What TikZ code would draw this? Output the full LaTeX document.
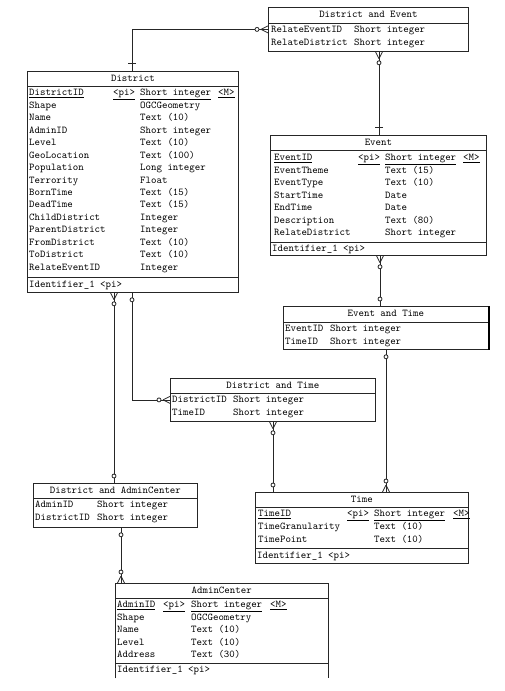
\documentclass[tikz,border=0pt]{standalone}
\usetikzlibrary{decorations.markings}
\tikzset{
	tbl/.style={draw=black!85, line width=0.8pt, anchor=north west, inner sep=0pt},
	txt/.style={anchor=west, inner sep=0pt, text height=7pt, text depth=2pt,
			font=\ttfamily\fontsize{10.4}{12}\selectfont},
	hd/.style={txt, anchor=center},
	rel/.style={draw=black!85, line width=0.8pt},
	onemark/.style={postaction={decorate, decoration={markings,
					mark=at position #1 with {\draw[rel] (0,-4pt) -- (0,4pt);}}}},
	zeromark/.style={postaction={decorate, decoration={markings,
					mark=at position #1 with {\draw[rel, fill=white] (0,0) circle (2pt);}}}},
	manyend/.style={postaction={decorate, decoration={markings,
					mark=at position -11pt with {\draw[rel, fill=white] (0,0) circle (2pt);},
					mark=at position -0.01pt with {\draw[rel] (-7pt,0) -- (0,3.5pt) (-7pt,0) -- (0,-3.5pt);}}}}
}

\begin{document}
\begin{tikzpicture}[x=1pt, y=-1pt]
	\useasboundingbox (0,0) rectangle (504,691);

	% District
	\node[tbl, minimum width=211pt, minimum height=221pt] (district) at (27,71) {};
	\draw[rel] (district.north west) ++(0,15) -- ++(211,0);
	\draw[rel] (district.south west) ++(0,-15) -- ++(211,0);
	\node[hd] (districth) at ([yshift=-7.5pt]district.north) {District};
	\node[txt] (dn1) at (29,93.3) {\underline{DistrictID}};
	\node[txt] (dp1) at (113,93.3) {\underline{<pi>}};
	\node[txt] (dy1) at (140,93.3) {\underline{Short integer}};
	\node[txt] (dm1) at (218,93.3) {\underline{<M>}};
	\foreach \n/\t [count=\i from 2] in {Shape/OGCGeometry, Name/Text (10), AdminID/Short integer,
			Level/Text (10), GeoLocation/Text (100), Population/Long integer, Terrority/Float,
			BornTime/Text (15), DeadTime/Text (15), ChildDistrict/Integer, ParentDistrict/Integer,
			FromDistrict/Text (10), ToDistrict/Text (10), RelateEventID/Integer}{
		\node[txt] (dn\i) at (29,{93.3+12.46*(\i-1)}) {\n};
		\node[txt] (dy\i) at (140,{93.3+12.46*(\i-1)}) {\t};
	}
	\node[txt] (did) at ([xshift=2pt,yshift=7.5pt]district.south west) {Identifier\_1 <pi>};

	% District and Event
	\node[tbl, minimum width=200pt, minimum height=44pt] (distev) at (268,7) {};
	\draw[rel] (distev.north west) ++(0,16) -- ++(200,0);
	\node[hd] (distevh) at ([yshift=-8pt]distev.north) {District and Event};
	\foreach \n/\t [count=\i] in {RelateEventID/Short integer, RelateDistrict/Short integer}{
		\node[txt] (den\i) at (271,{30+12.7*(\i-1)}) {\n};
		\node[txt] (dey\i) at (354,{30+12.7*(\i-1)}) {\t};
	}

	% Event
	\node[tbl, minimum width=216pt, minimum height=120pt] (event) at (270,135) {};
	\draw[rel] (event.north west) ++(0,15) -- ++(216,0);
	\draw[rel] (event.south west) ++(0,-13) -- ++(216,0);
	\node[hd] (eventh) at ([yshift=-7.5pt]event.north) {Event};
	\node[txt] (en1) at (274,158) {\underline{EventID}};
	\node[txt] (ep1) at (358,158) {\underline{<pi>}};
	\node[txt] (ey1) at (385,158) {\underline{Short integer}};
	\node[txt] (em1) at (463,158) {\underline{<M>}};
	\foreach \n/\t [count=\i from 2] in {EventTheme/Text (15), EventType/Text (10), StartTime/Date,
			EndTime/Date, Description/Text (80), RelateDistrict/Short integer}{
		\node[txt] (en\i) at (274,{158+12.5*(\i-1)}) {\n};
		\node[txt] (ey\i) at (385,{158+12.5*(\i-1)}) {\t};
	}
	\node[txt] (eid) at ([xshift=2pt,yshift=6.5pt]event.south west) {Identifier\_1 <pi>};

	% Event and Time
	\node[tbl, minimum width=205pt, minimum height=43pt] (evtime) at (283,306) {};
	\draw[rel] (evtime.north west) ++(0,16) -- ++(205,0);
	\draw[black, line width=2pt] (evtime.north east) -- (evtime.south east);
	\node[hd] (evtimeh) at ([yshift=-8pt]evtime.north) {Event and Time};
	\foreach \n/\t [count=\i] in {EventID/Short integer, TimeID/Short integer}{
		\node[txt] (etn\i) at (285,{329+12.5*(\i-1)}) {\n};
		\node[txt] (ety\i) at (330,{329+12.5*(\i-1)}) {\t};
	}

	% District and Time
	\node[tbl, minimum width=205pt, minimum height=43pt] (disttime) at (170,378) {};
	\draw[rel] (disttime.north west) ++(0,15) -- ++(205,0);
	\node[hd] (disttimeh) at ([yshift=-7.5pt]disttime.north) {District and Time};
	\foreach \n/\t [count=\i] in {DistrictID/Short integer, TimeID/Short integer}{
		\node[txt] (dtn\i) at (172,{400+12.8*(\i-1)}) {\n};
		\node[txt] (dty\i) at (233,{400+12.8*(\i-1)}) {\t};
	}

	% District and AdminCenter
	\node[tbl, minimum width=164pt, minimum height=44pt] (distadmin) at (33,483) {};
	\draw[rel] (distadmin.north west) ++(0,15) -- ++(164,0);
	\node[hd] (distadminh) at ([yshift=-7.5pt]distadmin.north) {District and AdminCenter};
	\foreach \n/\t [count=\i] in {AdminID/Short integer, DistrictID/Short integer}{
		\node[txt] (dan\i) at (35,{505+13*(\i-1)}) {\n};
		\node[txt] (day\i) at (97,{505+13*(\i-1)}) {\t};
	}

	% Time
	\node[tbl, minimum width=213pt, minimum height=71pt] (time) at (255,492) {};
	\draw[rel] (time.north west) ++(0,15) -- ++(213,0);
	\draw[rel] (time.south west) ++(0,-15) -- ++(213,0);
	\node[hd] (timeh) at ([yshift=-7.5pt]time.north) {Time};
	\node[txt] (tn1) at (258,514) {\underline{TimeID}};
	\node[txt] (tp1) at (347,514) {\underline{<pi>}};
	\node[txt] (ty1) at (374,514) {\underline{Short integer}};
	\node[txt] (tm1) at (453,514) {\underline{<M>}};
	\foreach \n/\t [count=\i from 2] in {TimeGranularity/Text (10), TimePoint/Text (10)}{
		\node[txt] (tn\i) at (258,{514+13*(\i-1)}) {\n};
		\node[txt] (ty\i) at (374,{514+13*(\i-1)}) {\t};
	}
	\node[txt] (tid) at ([xshift=2pt,yshift=7.5pt]time.south west) {Identifier\_1 <pi>};

	% AdminCenter (cut off at the bottom)
	\node[anchor=north west, inner sep=0pt, minimum width=213pt, minimum height=95pt] (admin) at (115,583) {};
	\draw[rel] (admin.south west) |- (admin.north east) -- (admin.south east);
	\draw[rel] (admin.north west) ++(0,15) -- ++(213,0);
	\draw[rel] (admin.south west) ++(0,-15) -- ++(213,0);
	\node[hd] (adminh) at ([yshift=-7.5pt]admin.north) {AdminCenter};
	\node[txt] (an1) at (117,605) {\underline{AdminID}};
	\node[txt] (ap1) at (163,605) {\underline{<pi>}};
	\node[txt] (ay1) at (191,605) {\underline{Short integer}};
	\node[txt] (am1) at (270,605) {\underline{<M>}};
	\foreach \n/\t [count=\i from 2] in {Shape/OGCGeometry, Name/Text (10), Level/Text (10), Address/Text (30)}{
		\node[txt] (an\i) at (117,{605+12.5*(\i-1)}) {\n};
		\node[txt] (ay\i) at (191,{605+12.5*(\i-1)}) {\t};
	}
	\node[txt] (aid) at ([xshift=2pt,yshift=8pt]admin.south west) {Identifier\_1 <pi>};

	% relationships
	\coordinate (c1) at ([xshift=105pt]district.north west);
	\draw[rel, onemark=8pt, manyend] (c1) |- (distev.west);
	\coordinate (c2) at ([xshift=109pt]event.north west);
	\draw[rel, onemark=8pt, manyend] (c2) -- (c2 |- distev.south);
	\coordinate (c3) at ([xshift=97pt]evtime.north west);
	\draw[rel, zeromark=7pt, manyend] (c3) -- (c3 |- event.south);
	\coordinate (c4) at ([xshift=103pt]evtime.south west);
	\draw[rel, zeromark=7pt, manyend] (c4) -- (c4 |- time.north);
	\coordinate (c5) at ([xshift=81pt]distadmin.north west);
	\draw[rel, zeromark=7pt, manyend] (c5) -- (c5 |- district.south);
	\coordinate (c6) at ([xshift=105pt]district.south west);
	\draw[rel, zeromark=7pt, manyend] (c6) |- (disttime.west);
	\coordinate (c7) at ([xshift=18pt]time.north west);
	\draw[rel, zeromark=7pt, manyend] (c7) -- (c7 |- disttime.south);
	\coordinate (c8) at ([xshift=88pt]distadmin.south west);
	\draw[rel, zeromark=7pt, manyend] (c8) -- (c8 |- admin.north);
\end{tikzpicture}
\end{document}
